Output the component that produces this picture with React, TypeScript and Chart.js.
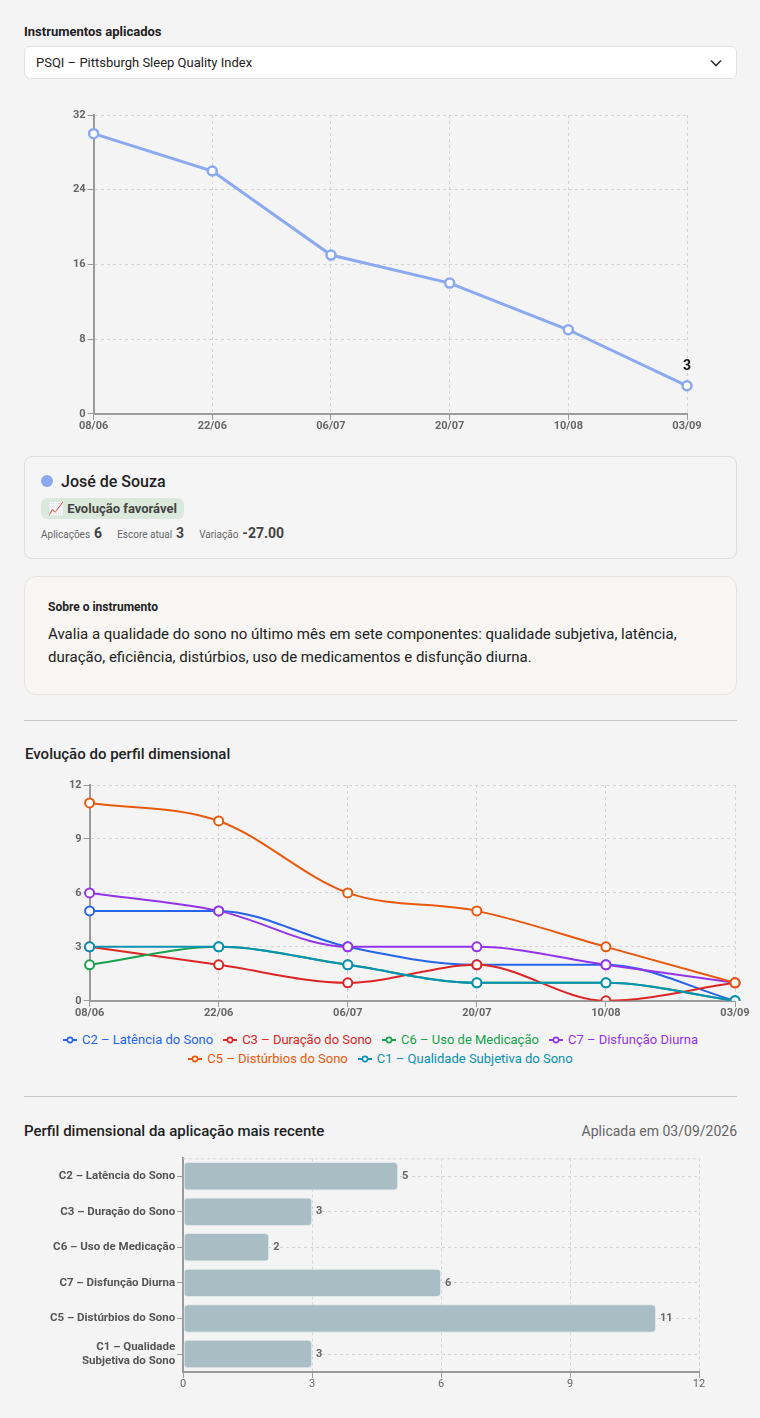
import React, { useEffect, useRef } from 'react';
import { Chart, registerables } from 'chart.js';

Chart.register(...registerables);
Chart.defaults.font.family = 'Roboto';

// ---------- data ----------
const dates = ['08/06', '22/06', '06/07', '20/07', '10/08', '03/09'];
const totalScores = [30, 26, 17, 14, 9, 3];
const totalMax = 32;
const totalStep = 8;

const dimensionNames = [
  'C2 – Latência do Sono',
  'C3 – Duração do Sono',
  'C6 – Uso de Medicação',
  'C7 – Disfunção Diurna',
  'C5 – Distúrbios do Sono',
  'C1 – Qualidade Subjetiva do Sono',
];
const dimensionColors = ['#2563eb', '#dc2626', '#16a34a', '#9333ea', '#ea580c', '#0891b2'];
const c2Values = [5, 5, 3, 2, 2, 0];
const c3Values = [3, 2, 1, 2, 0, 1];
const c6Values = [2, 3, 2, 1, 1, 0];
const c7Values = [6, 5, 3, 3, 2, 1];
const c5Values = [11, 10, 6, 5, 3, 1];
const c1Values = [3, 3, 2, 1, 1, 0];
const dimensionSeries = [c2Values, c3Values, c6Values, c7Values, c5Values, c1Values];
const dimensionMax = 12;
const dimensionStep = 3;

const barLabels: (string | string[])[] = [
  'C2 – Latência do Sono',
  'C3 – Duração do Sono',
  'C6 – Uso de Medicação',
  'C7 – Disfunção Diurna',
  'C5 – Distúrbios do Sono',
  ['C1 – Qualidade', 'Subjetiva do Sono'],
];
const latestValues = [5, 3, 2, 6, 11, 3];

// ---------- styles ----------
const LINE_COLOR = '#8aa9f0';
const GRID_COLOR = '#d4d4d4';
const AXIS_COLOR = '#9a9a9a';
const TICK_COLOR = '#666';

function axisCommon(extra: any = {}) {
  return {
    grid: { color: GRID_COLOR, tickColor: AXIS_COLOR, tickLength: 6, lineWidth: 1 },
    border: { color: AXIS_COLOR, width: 2, dash: [3, 3] },
    ...extra,
  };
}

const lastLabelPlugin = {
  id: 'lastLabel',
  afterDatasetsDraw(chart: any) {
    const meta = chart.getDatasetMeta(0);
    const i = meta.data.length - 1;
    const pt = meta.data[i];
    const v = chart.data.datasets[0].data[i];
    const ctx = chart.ctx;
    ctx.save();
    ctx.font = 'bold 14px Roboto';
    ctx.fillStyle = '#111';
    ctx.textAlign = 'center';
    ctx.textBaseline = 'middle';
    ctx.fillText(String(v), pt.x, pt.y - 19);
    ctx.restore();
  },
};

const barValuePlugin = {
  id: 'barValue',
  afterDatasetsDraw(chart: any) {
    const meta = chart.getDatasetMeta(0);
    const ctx = chart.ctx;
    ctx.save();
    ctx.font = 'bold 11px Roboto';
    ctx.fillStyle = '#666';
    ctx.textAlign = 'left';
    ctx.textBaseline = 'middle';
    meta.data.forEach((bar: any, i: number) => {
      ctx.fillText(String(chart.data.datasets[0].data[i]), bar.x + 4, bar.y);
    });
    ctx.restore();
  },
};

const topLinePlugin = {
  id: 'topLine',
  beforeDatasetsDraw(chart: any) {
    const { ctx, chartArea } = chart;
    ctx.save();
    ctx.strokeStyle = GRID_COLOR;
    ctx.lineWidth = 1;
    ctx.setLineDash([3, 3]);
    ctx.beginPath();
    ctx.moveTo(chartArea.left, chartArea.top + 0.5);
    ctx.lineTo(chartArea.right, chartArea.top + 0.5);
    ctx.stroke();
    ctx.restore();
  },
};

function TotalChart() {
  const ref = useRef<HTMLCanvasElement>(null);
  useEffect(() => {
    const chart = new Chart(ref.current!, {
      type: 'line',
      data: {
        labels: dates,
        datasets: [
          {
            data: totalScores,
            borderColor: LINE_COLOR,
            borderWidth: 3,
            pointRadius: 4.5,
            pointBorderWidth: 2.5,
            pointBackgroundColor: '#fff',
            pointBorderColor: LINE_COLOR,
            tension: 0,
          },
        ],
      },
      options: {
        animation: false,
        responsive: true,
        maintainAspectRatio: false,
        layout: { padding: { left: 47, right: 50, top: 20, bottom: 7 } },
        plugins: { legend: { display: false }, tooltip: { enabled: false } },
        scales: {
          x: axisCommon({
            ticks: { color: TICK_COLOR, font: { size: 11, weight: 'bold' }, padding: 0 },
          }),
          y: axisCommon({
            min: 0,
            max: totalMax,
            ticks: { stepSize: totalStep, color: TICK_COLOR, font: { size: 11, weight: 'bold' }, padding: 2 },
          }),
        },
      },
      plugins: [lastLabelPlugin],
    } as any);
    return () => chart.destroy();
  }, []);
  return (
    <div style={{ position: 'relative', height: 345, marginTop: 16 }}>
      <canvas ref={ref} />
    </div>
  );
}

function DimensionChart() {
  const ref = useRef<HTMLCanvasElement>(null);
  useEffect(() => {
    const n = dimensionSeries.length;
    const chart = new Chart(ref.current!, {
      type: 'line',
      data: {
        labels: dates,
        datasets: dimensionSeries.map((vals, i) => ({
          label: dimensionNames[i],
          data: vals,
          borderColor: dimensionColors[i],
          backgroundColor: dimensionColors[i],
          borderWidth: 2,
          pointRadius: 4.5,
          pointBorderWidth: 2,
          pointBackgroundColor: '#fff',
          pointBorderColor: dimensionColors[i],
          cubicInterpolationMode: 'monotone',
          order: n - i,
        })),
      },
      options: {
        animation: false,
        responsive: true,
        maintainAspectRatio: false,
        layout: { padding: { left: 43, right: 18, top: 17, bottom: 2 } },
        plugins: {
          tooltip: { enabled: false },
          legend: { display: false },
        },
        scales: {
          x: axisCommon({
            ticks: { color: TICK_COLOR, font: { size: 11, weight: 'bold' }, padding: 0 },
          }),
          y: axisCommon({
            min: 0,
            max: dimensionMax,
            ticks: { stepSize: dimensionStep, color: TICK_COLOR, font: { size: 11, weight: 'bold' }, padding: 2 },
          }),
        },
      },
    } as any);
    return () => chart.destroy();
  }, []);
  return (
    <div style={{ position: 'relative', height: 254, marginTop: 4, marginRight: -16 }}>
      <canvas ref={ref} />
    </div>
  );
}

function DimensionLegend() {
  return (
    <div
      style={{
        marginTop: 8,
        display: 'flex',
        flexWrap: 'wrap',
        justifyContent: 'center',
        columnGap: 10,
        lineHeight: '19px',
        fontSize: 13,
      }}
    >
      {dimensionNames.map((name, i) => (
        <span key={name} style={{ display: 'inline-flex', alignItems: 'center', color: dimensionColors[i], whiteSpace: 'nowrap' }}>
          <svg width="14" height="8" viewBox="0 0 14 8" style={{ marginRight: 5 }}>
            <line x1="0" y1="4" x2="14" y2="4" stroke={dimensionColors[i]} strokeWidth="2" />
            <circle cx="7" cy="4" r="2.6" fill="#fff" stroke={dimensionColors[i]} strokeWidth="1.6" />
          </svg>
          {name}
        </span>
      ))}
    </div>
  );
}

function LatestBarChart() {
  const ref = useRef<HTMLCanvasElement>(null);
  useEffect(() => {
    const chart = new Chart(ref.current!, {
      type: 'bar',
      data: {
        labels: barLabels,
        datasets: [
          {
            data: latestValues,
            backgroundColor: '#a8bec4',
            borderColor: '#dfe7e9',
            borderWidth: 1,
            borderRadius: 4,
            borderSkipped: false,
            barPercentage: 0.8,
            categoryPercentage: 1,
          },
        ],
      },
      options: {
        indexAxis: 'y',
        animation: false,
        responsive: true,
        maintainAspectRatio: false,
        layout: { padding: { left: 24, right: 38, top: 1, bottom: 0 } },
        plugins: { legend: { display: false }, tooltip: { enabled: false } },
        scales: {
          x: axisCommon({
            min: 0,
            max: dimensionMax,
            ticks: { stepSize: dimensionStep, color: TICK_COLOR, font: { size: 11 }, padding: 0 },
          }),
          y: axisCommon({
            grid: { color: GRID_COLOR, tickColor: AXIS_COLOR, tickLength: 6, offset: false },
            ticks: { color: '#555', font: { size: 11.5, weight: 'bold', lineHeight: 1.25 }, padding: 2 },
          }),
        },
      },
      plugins: [barValuePlugin, topLinePlugin],
    } as any);
    return () => chart.destroy();
  }, []);
  return (
    <div style={{ position: 'relative', height: 249, marginTop: 1 }}>
      <canvas ref={ref} />
    </div>
  );
}

export default function App() {
  useEffect(() => {
    document.body.style.margin = '0';
    document.body.style.background = '#f4f4f4';
  }, []);

  const hr = (mt: number, mb: number) => (
    <div style={{ height: 1, background: '#c9c9c9', marginTop: mt, marginBottom: mb }} />
  );

  return (
    <div
      style={{
        fontFamily: 'Roboto, sans-serif',
        background: '#f4f4f4',
        padding: '24px 23px 0 24px',
        width: 760,
        boxSizing: 'border-box',
        minHeight: 1418,
        color: '#222',
      }}
    >
      <div style={{ fontSize: 13, fontWeight: 700, lineHeight: '16px', color: '#222' }}>Instrumentos aplicados</div>
      <div
        style={{
          marginTop: 6,
          height: 33,
          boxSizing: 'border-box',
          background: '#fff',
          border: '1px solid #e2e2e2',
          borderRadius: 6,
          display: 'flex',
          alignItems: 'center',
          justifyContent: 'space-between',
          padding: '0 14px 0 11px',
          fontSize: 13,
          color: '#222',
        }}
      >
        <span>PSQI – Pittsburgh Sleep Quality Index</span>
        <svg width="12" height="8" viewBox="0 0 12 8">
          <polyline points="1,1.5 6,6.5 11,1.5" fill="none" stroke="#333" strokeWidth="1.6" />
        </svg>
      </div>

      <TotalChart />

      <div
        style={{
          marginTop: 16,
          border: '1px solid #dedede',
          borderRadius: 8,
          background: '#f5f5f5',
          padding: '13px 16px 15px 16px',
          boxSizing: 'border-box',
        }}
      >
        <div style={{ display: 'flex', alignItems: 'center', height: 22 }}>
          <span style={{ width: 12, height: 12, borderRadius: 6, background: LINE_COLOR, display: 'inline-block', marginRight: 8 }} />
          <span style={{ fontSize: 16, fontWeight: 500, color: '#222' }}>José de Souza</span>
        </div>
        <div
          style={{
            marginTop: 6,
            display: 'inline-block',
            background: '#dbe9dc',
            borderRadius: 6,
            padding: '0 7px',
            height: 21,
            lineHeight: '21px',
            fontSize: 13,
            fontWeight: 700,
            color: '#444',
          }}
        >
          📈 Evolução favorável
        </div>
        <div style={{ marginTop: 6, display: 'flex', alignItems: 'baseline', height: 18 }}>
          <span style={{ fontSize: 10, color: '#666' }}>Aplicações</span>
          <span style={{ fontSize: 14, fontWeight: 700, color: '#444', marginLeft: 4 }}>6</span>
          <span style={{ fontSize: 10, color: '#666', marginLeft: 15 }}>Escore atual</span>
          <span style={{ fontSize: 14, fontWeight: 700, color: '#444', marginLeft: 4 }}>3</span>
          <span style={{ fontSize: 10, color: '#666', marginLeft: 15 }}>Variação</span>
          <span style={{ fontSize: 14, fontWeight: 700, color: '#444', marginLeft: 4 }}>-27.00</span>
        </div>
      </div>

      <div
        style={{
          marginTop: 17,
          border: '1px solid #e6e3da',
          borderRadius: 12,
          background: '#f7f6f2',
          padding: '22px 24px 25px 23px',
        }}
      >
        <div style={{ fontSize: 12, fontWeight: 700, lineHeight: '16px', color: '#222' }}>Sobre o instrumento</div>
        <div style={{ marginTop: 8, fontSize: 15, lineHeight: '23px', color: '#222' }}>
          Avalia a qualidade do sono no último mês em sete componentes: qualidade subjetiva, latência, duração, eficiência, distúrbios, uso de medicamentos e disfunção diurna.
        </div>
      </div>

      {hr(25, 23)}

      <div style={{ fontSize: 15, fontWeight: 500, lineHeight: '20px', color: '#222', paddingLeft: 1 }}>
        Evolução do perfil dimensional
      </div>

      <DimensionChart />
      <DimensionLegend />

      {hr(28, 24)}

      <div style={{ display: 'flex', justifyContent: 'space-between', alignItems: 'baseline', lineHeight: '20px' }}>
        <span style={{ fontSize: 15, fontWeight: 500, color: '#222' }}>Perfil dimensional da aplicação mais recente</span>
        <span style={{ fontSize: 14, color: '#666' }}>Aplicada em 03/09/2026</span>
      </div>

      <LatestBarChart />
    </div>
  );
}
